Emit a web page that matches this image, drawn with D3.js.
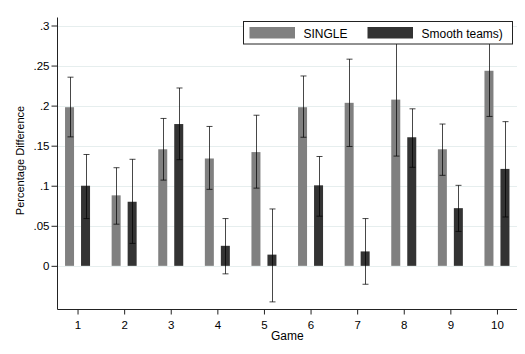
<!DOCTYPE html>
<html>
<head>
<meta charset="utf-8">
<script src="https://cdn.jsdelivr.net/npm/d3@7"></script>
<style>
  html, body { margin: 0; padding: 0; background: #fff; }
  svg { display: block; font-family: "Liberation Sans", Arial, Helvetica, sans-serif; }
</style>
</head>
<body>
<svg id="chart" width="525" height="354"></svg>
<script>
// Games on the x axis
const games = [1, 2, 3, 4, 5, 6, 7, 8, 9, 10];

// SINGLE: mean percentage difference with confidence interval
const singleMean = [0.198, 0.088, 0.1455, 0.134, 0.142, 0.198, 0.2035, 0.2075, 0.1455, 0.2435];
const singleLow  = [0.161, 0.052, 0.107, 0.0955, 0.097, 0.1605, 0.149, 0.137, 0.113, 0.1865];
const singleHigh = [0.2355, 0.1225, 0.184, 0.174, 0.188, 0.237, 0.258, 0.28, 0.177, 0.301];

// Smooth teams: mean percentage difference with confidence interval
const smoothMean = [0.100, 0.080, 0.177, 0.025, 0.014, 0.1005, 0.018, 0.1605, 0.072, 0.121];
const smoothLow  = [0.059, 0.028, 0.1325, -0.010, -0.045, 0.062, -0.023, 0.123, 0.043, 0.061];
const smoothHigh = [0.139, 0.133, 0.222, 0.059, 0.071, 0.1365, 0.059, 0.196, 0.1005, 0.180];

const yTicks = [0, 0.05, 0.1, 0.15, 0.2, 0.25, 0.3];
const yTickLabels = ["0", ".05", ".1", ".15", ".2", ".25", ".3"];
const seriesNames = ["SINGLE", "Smooth teams)"];
const seriesColors = ["#808080", "#333333"];

(function () {
const svg = d3.select("#chart");
const plotL = 57.5, plotR = 517, plotT = 17.5, plotB = 309.5;

const x = d3.scaleLinear().domain([0.57, 10.43]).range([plotL, plotR]);
const y = d3.scaleLinear().domain([-0.0545, 0.31]).range([plotB, plotT]);

const barW = 9, barOff = 8;

// Horizontal grid lines
svg.append("g")
  .selectAll("line")
  .data(yTicks)
  .join("line")
  .attr("x1", plotL).attr("x2", plotR)
  .attr("y1", d => Math.round(y(d)) + 0.5).attr("y2", d => Math.round(y(d)) + 0.5)
  .attr("stroke", "#e6eeee").attr("stroke-width", 1);

const series = [
  { mean: singleMean, low: singleLow, high: singleHigh, off: -barOff, color: seriesColors[0] },
  { mean: smoothMean, low: smoothLow, high: smoothHigh, off: barOff, color: seriesColors[1] }
];

series.forEach(s => {
  const rows = games.map((g, i) => ({ g, m: s.mean[i] }));
  svg.append("g").selectAll("rect")
    .data(rows)
    .join("rect")
    .attr("x", d => x(d.g) + s.off - barW / 2)
    .attr("width", barW)
    .attr("y", d => y(Math.max(0, d.m)))
    .attr("height", d => Math.abs(y(d.m) - y(0)))
    .attr("fill", s.color);
});

// Confidence interval whiskers
series.forEach(s => {
  const rows = games.map((g, i) => ({ g, lo: s.low[i], hi: s.high[i] }));
  const g = svg.append("g")
    .attr("stroke", "#000").attr("stroke-opacity", 0.72).attr("stroke-width", 1).attr("fill", "none");
  rows.forEach(d => {
    const cx = Math.round(x(d.g) + s.off) + 0.5;
    g.append("line").attr("x1", cx).attr("x2", cx).attr("y1", y(d.hi)).attr("y2", y(d.lo));
    g.append("line").attr("x1", cx - 3).attr("x2", cx + 3).attr("y1", y(d.hi)).attr("y2", y(d.hi));
    g.append("line").attr("x1", cx - 3).attr("x2", cx + 3).attr("y1", y(d.lo)).attr("y2", y(d.lo));
  });
});

// Y axis
const yAxis = d3.axisLeft(y)
  .tickValues(yTicks)
  .tickFormat((d, i) => yTickLabels[i])
  .tickSize(6).tickPadding(2);
const gy = svg.append("g").attr("transform", `translate(${plotL},0)`).call(yAxis);
gy.select(".domain").attr("d", `M0,${plotT}V${plotB}`).attr("stroke", "#222");
gy.selectAll(".tick line").attr("stroke", "#222");
gy.selectAll(".tick text").attr("font-size", 11.5).attr("fill", "#000")
  .attr("font-family", "'Liberation Sans', Arial, sans-serif");

// X axis
const xAxis = d3.axisBottom(x).tickValues(games).tickFormat(d3.format("d"))
  .tickSize(5).tickPadding(6);
const gx = svg.append("g").attr("transform", `translate(0,${plotB})`).call(xAxis);
gx.select(".domain").attr("d", `M${plotL},0H${plotR}`).attr("stroke", "#222");
gx.selectAll(".tick line").attr("stroke", "#222");
gx.selectAll(".tick text").attr("font-size", 11.5).attr("fill", "#000")
  .attr("font-family", "'Liberation Sans', Arial, sans-serif");

// Axis titles
svg.append("text")
  .attr("x", (plotL + plotR) / 2).attr("y", 340)
  .attr("text-anchor", "middle").attr("font-size", 12).attr("fill", "#000")
  .text("Game");
svg.append("text")
  .attr("transform", `translate(24,${(plotT + plotB) / 2 - 3}) rotate(-90)`)
  .attr("text-anchor", "middle").attr("font-size", 11).attr("fill", "#000")
  .text("Percentage Difference");

// Legend
const lg = svg.append("g");
lg.append("rect")
  .attr("x", 243.5).attr("y", 21.5).attr("width", 269).attr("height", 22.5)
  .attr("fill", "#fff").attr("stroke", "#222").attr("stroke-width", 1);
const legendX = [249.5, 367.5];
seriesNames.forEach((name, i) => {
  lg.append("rect")
    .attr("x", legendX[i]).attr("y", 27).attr("width", 45.5).attr("height", 11.5)
    .attr("fill", seriesColors[i]);
  lg.append("text")
    .attr("x", legendX[i] + 54).attr("y", 38.3)
    .attr("font-size", 12).attr("fill", "#000")
    .text(name);
});
})();
</script>
</body>
</html>
